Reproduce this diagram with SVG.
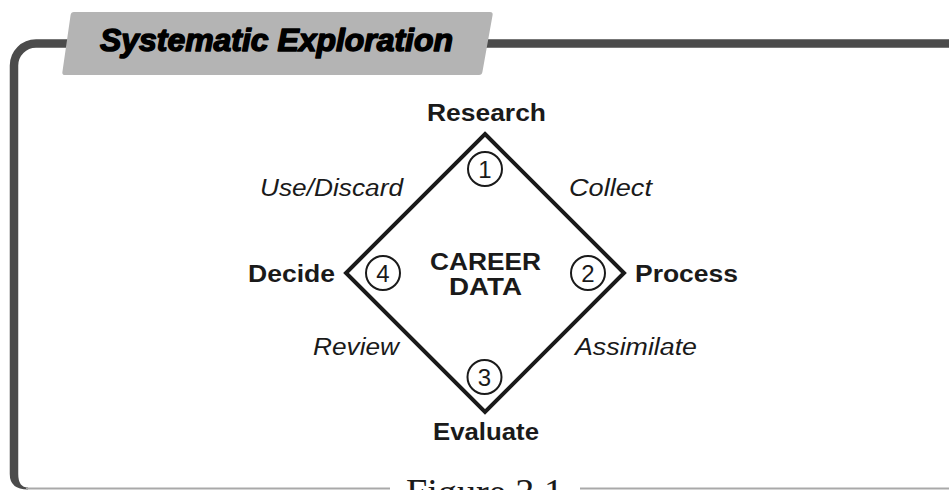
<svg xmlns="http://www.w3.org/2000/svg" width="949" height="490" viewBox="0 0 949 490">
  <style>
    .frame { fill: none; stroke: #4b4b4b; stroke-width: 8.5; }
    .base { fill: none; stroke: #a9a9a9; stroke-width: 2; }
    .step { font-family: "Liberation Sans", Arial, sans-serif; font-weight: bold; font-size: 23px; fill: #1a1a1a; }
    .verb { font-family: "Liberation Sans", Arial, sans-serif; font-style: italic; font-size: 23px; fill: #1a1a1a; }
    .num { font-family: "Liberation Sans", Arial, sans-serif; font-size: 24px; fill: #1a1a1a; text-anchor: middle; }
    .ring { fill: #fff; stroke: #1a1a1a; stroke-width: 2; }
    .cycle { fill: none; stroke: #1a1a1a; stroke-width: 4; stroke-linejoin: miter; }
  </style>

  <!-- outer frame: heavy top rule and left rail, thin base rule -->
  <g id="frame">
    <path class="frame" d="M 949 43.5 H 36 A 22 22 0 0 0 14 65.5 V 474"/>
    <path d="M 9.75 474 Q 9.75 489.5 28 489.5 L 28 487.5 Q 18.25 487.5 18.25 474 Z" fill="#4b4b4b"/>
    <line class="base" x1="26" y1="488.5" x2="390" y2="488.5"/>
    <line class="base" x1="580" y1="488.5" x2="949" y2="488.5"/>
  </g>

  <!-- title tab -->
  <g id="title">
    <path d="M 74 12 H 490 Q 493 12 492.6 15 L 482.4 72 Q 482 75 479 75 H 65 Q 62 75 62.4 72 L 70.6 15 Q 71 12 74 12 Z" fill="#b4b4b4"/>
    <text x="100" y="50.5" font-family="'Liberation Sans', Arial, sans-serif" font-weight="bold" font-style="italic" font-size="31.5" fill="#000" stroke="#000" stroke-width="1.5" stroke-linejoin="round" textLength="353" lengthAdjust="spacingAndGlyphs">Systematic Exploration</text>
  </g>

  <!-- the cycle loop -->
  <g id="connectors">
    <path class="cycle" d="M 485 134 L 624 273 L 485 412 L 346 273 Z"/>
  </g>

  <g id="center">
    <text class="step" x="485.5" y="270" text-anchor="middle" font-size="24" textLength="111" lengthAdjust="spacingAndGlyphs">CAREER</text>
    <text class="step" x="485.5" y="295" text-anchor="middle" font-size="24" textLength="73" lengthAdjust="spacingAndGlyphs">DATA</text>
  </g>

  <g id="research">
    <text class="step" x="486.5" y="121" text-anchor="middle" textLength="119" lengthAdjust="spacingAndGlyphs">Research</text>
    <circle class="ring" cx="485" cy="169" r="17"/>
    <text class="num" x="485" y="177.5">1</text>
  </g>

  <g id="process">
    <text class="step" x="635" y="281.5" textLength="103" lengthAdjust="spacingAndGlyphs">Process</text>
    <circle class="ring" cx="588" cy="273" r="17"/>
    <text class="num" x="588" y="281.5">2</text>
  </g>

  <g id="evaluate">
    <text class="step" x="486" y="440" text-anchor="middle" textLength="106" lengthAdjust="spacingAndGlyphs">Evaluate</text>
    <circle class="ring" cx="484.5" cy="377" r="17"/>
    <text class="num" x="484.5" y="385.5">3</text>
  </g>

  <g id="decide">
    <text class="step" x="248" y="281.5" textLength="87" lengthAdjust="spacingAndGlyphs">Decide</text>
    <circle class="ring" cx="383" cy="273" r="17"/>
    <text class="num" x="383" y="281.5">4</text>
  </g>

  <!-- edge verbs -->
  <g id="edge-labels">
    <text class="verb" x="260" y="196" textLength="143" lengthAdjust="spacingAndGlyphs">Use/Discard</text>
    <text class="verb" x="569" y="196" textLength="83" lengthAdjust="spacingAndGlyphs">Collect</text>
    <text class="verb" x="313" y="355" textLength="86" lengthAdjust="spacingAndGlyphs">Review</text>
    <text class="verb" x="575" y="355" textLength="122" lengthAdjust="spacingAndGlyphs">Assimilate</text>
  </g>

  <!-- caption, running off the bottom edge -->
  <g id="caption">
    <text x="406" y="505" font-family="'Liberation Serif', 'Times New Roman', serif" font-size="38" fill="#1a1a1a" textLength="157" lengthAdjust="spacingAndGlyphs">Figure 3.1</text>
  </g>
</svg>
